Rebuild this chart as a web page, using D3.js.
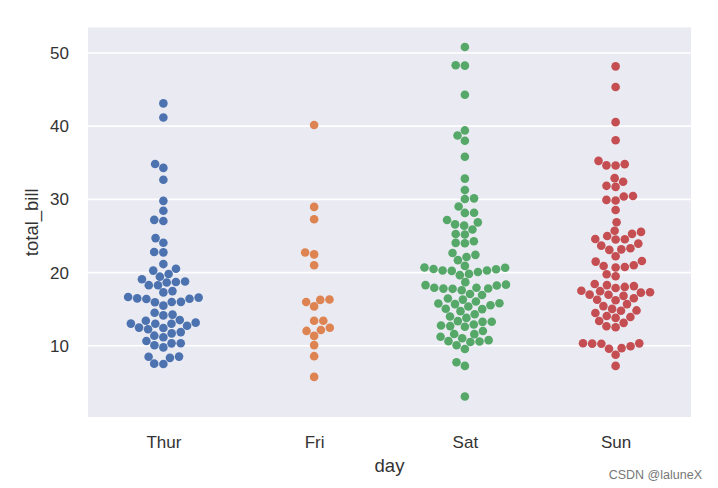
<!DOCTYPE html>
<html>
<head>
<meta charset="utf-8">
<script src="https://cdn.jsdelivr.net/npm/d3@7"></script>
<style>
body { margin: 0; background: #fff; }
text { font-family: "Liberation Sans", Arial, sans-serif; }
</style>
</head>
<body>
<div id="chart"></div>
<script>
var width = 718;
var height = 488;

// datos (total_bill por dia)
var days = ["Thur", "Fri", "Sat", "Sun"];
var colors = ["#4C72B0", "#DD8452", "#55A868", "#C44E52"];
var yTicks = [10, 20, 30, 40, 50];

var thur = [27.20, 22.76, 17.29, 19.44, 16.66, 10.07, 32.68, 15.98, 34.83, 13.03, 18.28, 24.71, 21.16,
	10.65, 12.43, 24.08, 11.69, 13.42, 14.26, 15.95, 12.48, 29.80, 8.52, 14.52, 11.38, 22.82, 19.08,
	20.27, 11.17, 12.26, 18.26, 8.51, 10.33, 14.15, 16.00, 13.16, 17.47, 34.30, 41.19, 27.05, 16.43,
	8.35, 18.64, 11.87, 9.78, 7.51, 19.81, 28.44, 15.48, 16.58, 7.56, 10.34, 43.11, 13.00, 13.51,
	18.71, 12.74, 13.00, 16.40, 20.53, 16.47, 18.78];
var fri = [28.97, 22.49, 5.75, 16.32, 22.75, 40.17, 27.28, 12.03, 21.01, 12.46, 11.35, 15.38,
	12.16, 13.42, 8.58, 15.98, 13.42, 16.27, 10.09];
var sat = [20.65, 17.92, 20.29, 15.77, 39.42, 19.82, 17.81, 13.37, 12.69, 21.70, 19.65, 9.55,
	18.35, 15.06, 20.69, 17.78, 24.06, 16.31, 16.93, 18.69, 31.27, 16.04,
	38.01, 26.41, 11.24, 48.27, 20.29, 13.81, 11.02, 18.29, 17.59, 20.08, 16.45, 3.07, 20.23,
	15.01, 12.02, 17.07, 26.86, 25.28, 14.73, 10.51, 17.92,
	44.30, 22.42, 20.92, 15.36, 20.49, 25.21, 18.24, 14.31, 14.00, 7.25,
	10.59, 10.63, 50.81, 15.81,
	26.59, 38.73, 24.27, 12.76, 30.06, 25.89, 48.33, 13.27, 28.17, 12.90, 28.15, 11.59, 7.74, 30.14,
	20.45, 13.28, 22.12, 24.01, 15.69, 11.61, 10.77, 15.53, 10.07, 12.60, 32.83, 35.83, 29.03,
	27.18, 22.67, 17.82];
var sun = [16.99, 10.34, 21.01, 23.68, 24.59, 25.29, 8.77, 26.88, 15.04, 14.78, 10.27, 35.26,
	15.42, 18.43, 14.83, 21.58, 10.33, 16.29, 16.97,
	17.46, 13.94, 9.68, 30.40, 18.29, 22.23, 32.40, 28.55, 18.04, 12.54, 10.29, 34.81, 9.94, 25.56, 19.49,
	38.07, 23.95, 25.71, 17.31, 29.93,
	14.07, 13.13, 17.26, 24.55, 19.77, 29.85, 48.17, 25.00, 13.39, 16.49, 21.50, 12.66, 16.21,
	13.81, 17.51, 24.52, 20.76, 31.71,
	7.25, 31.85, 16.82, 32.90, 17.89, 14.48, 9.60, 34.63, 34.65, 23.33, 45.35, 23.17, 40.55,
	20.69, 20.90, 30.46, 18.15, 23.10, 15.69];
var series = [thur, fri, sat, sun];

var pLeft = 88, pRight = 691, pTop = 27.5, pBottom = 417;
var r = 4.38;      // radio usado para el swarm
var rDraw = 4.3;

var x = d3.scaleLinear().domain([-0.5, 3.5]).range([pLeft, pRight]);
var y = d3.scaleLinear().domain([0.27, 53.48]).range([pBottom, pTop]);

var canvas = d3.select("#chart")
				.append("svg")
				.attr("width", width)
				.attr("height", height);

canvas.append("rect")
		.attr("x", pLeft)
		.attr("y", pTop)
		.attr("width", pRight - pLeft)
		.attr("height", pBottom - pTop)
		.attr("fill", "#EAEAF2");

// Lineas horizontales
var grid = canvas.append("g");
yTicks.forEach(function(t) {
	grid.append("line")
		.attr("x1", pLeft)
		.attr("x2", pRight)
		.attr("y1", y(t))
		.attr("y2", y(t))
		.attr("stroke", "#fff")
		.attr("stroke-width", 1.6);
});

// Ejes
var yAxis = canvas.append("g")
		.attr("transform", "translate(" + pLeft + ",0)")
		.call(d3.axisLeft(y).tickValues(yTicks).tickSize(0).tickPadding(19));
var xAxis = canvas.append("g")
		.attr("transform", "translate(0," + pBottom + ")")
		.call(d3.axisBottom(x).tickValues([0, 1, 2, 3]).tickFormat(function(d) { return days[d]; })
			.tickSize(0).tickPadding(19));
[yAxis, xAxis].forEach(function(a) {
	a.select(".domain").remove();
	a.selectAll("text")
		.attr("fill", "#333")
		.style("font-size", "17px")
		.style("font-family", "'Liberation Sans', Arial, sans-serif");
});

canvas.append("text")
		.attr("x", (pLeft + pRight) / 2)
		.attr("y", 472)
		.attr("text-anchor", "middle")
		.attr("fill", "#333")
		.style("font-size", "18.5px")
		.text("day");
canvas.append("text")
		.attr("transform", "translate(38," + (pTop + pBottom) / 2 + ") rotate(-90)")
		.attr("text-anchor", "middle")
		.attr("fill", "#333")
		.style("font-size", "18.5px")
		.text("total_bill");

// swarm como en seaborn
function swarm(values, cx) {
	var pts = values.map(function(v, i) { return { v: v, i: i, py: y(v) }; });
	pts.sort(function(a, b) { return a.v - b.v || a.i - b.i; });
	var placed = [];
	pts.forEach(function(p) {
		var neighbors = [];
		for (var k = placed.length - 1; k >= 0; k--) {
			if (Math.abs(p.py - placed[k].py) < 2 * r) neighbors.unshift(placed[k]);
			else break;
		}
		var cands = [cx];
		var leftFirst = true;
		neighbors.forEach(function(n) {
			var dy = p.py - n.py;
			var dx = Math.sqrt(Math.max(4 * r * r - dy * dy, 0)) * 1.05;
			if (leftFirst) cands.push(n.px - dx, n.px + dx);
			else cands.push(n.px + dx, n.px - dx);
			leftFirst = !leftFirst;
		});
		var order = cands.map(function(c, i) { return i; });
		order.sort(function(a, b) { return Math.abs(cands[a] - cx) - Math.abs(cands[b] - cx) || a - b; });
		p.px = cx;
		for (var j = 0; j < order.length; j++) {
			var c = cands[order[j]];
			var ok = neighbors.every(function(n) {
				return (n.px - c) * (n.px - c) + (n.py - p.py) * (n.py - p.py) >= 4 * r * r - 1e-9;
			});
			if (ok) { p.px = c; break; }
		}
		placed.push(p);
	});
	return placed;
}

var dots = canvas.append("g");
series.forEach(function(vals, d) {
	var pts = swarm(vals, x(d));
	dots.selectAll(".d" + d)
		.data(pts)
		.enter()
		.append("circle")
		.attr("cx", function(p) { return p.px; })
		.attr("cy", function(p) { return p.py; })
		.attr("r", rDraw)
		.attr("fill", colors[d]);
});

canvas.append("text")
		.attr("x", 702)
		.attr("y", 479)
		.attr("text-anchor", "end")
		.attr("fill", "#777")
		.style("font-size", "12.5px")
		.text("CSDN @laluneX");
</script>
</body>
</html>
